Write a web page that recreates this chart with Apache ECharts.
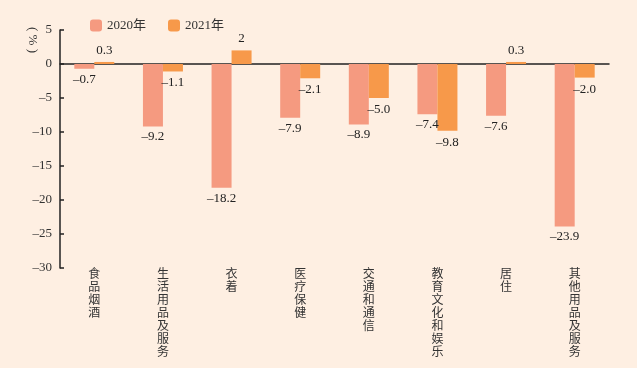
<!DOCTYPE html>
<html><head><meta charset="utf-8">
<script src="https://cdn.jsdelivr.net/npm/echarts@6/dist/echarts.min.js"></script>
<style>html,body{margin:0;padding:0;background:#feefe2;}#c{width:637px;height:368px;}</style>
</head><body><div id="c"></div>
<script>
const categories = ['食品烟酒','生活用品及服务','衣着','医疗保健','交通和通信','教育文化和娱乐','居住','其他用品及服务'];
const values2020 = [-0.7, -9.2, -18.2, -7.9, -8.9, -7.4, -7.6, -23.9];
const values2021 = [0.3, -1.1, 2, -2.1, -5.0, -9.8, 0.3, -2.0];
const labels2020 = ['-0.7','-9.2','-18.2','-7.9','-8.9','-7.4','-7.6','-23.9'];
const labels2021 = ['0.3','-1.1','2','-2.1','-5.0','-9.8','0.3','-2.0'];
const yTicks = [5, 0, -5, -10, -15, -20, -25, -30];

const serif = '"Liberation Serif","Noto Sans CJK SC",serif';
const minus = s => String(s).replace('-', '\u2013');

function mk(vals, labs) {
  return vals.map((v, i) => ({
    value: v,
    label: { position: v < 0 ? 'bottom' : 'top', formatter: minus(labs[i]) }
  }));
}

const chart = echarts.init(document.getElementById('c'));
chart.setOption({
  backgroundColor: '#feefe2',
  textStyle: { fontFamily: serif },
  animation: false,
  legend: {
    top: 14, left: 85, itemWidth: 12, itemHeight: 12, itemGap: 22, itemStyle: { borderWidth: 0 },
    textStyle: { fontFamily: serif, fontSize: 13, color: '#333' },
    data: ['2020年', '2021年']
  },
  graphic: [{
    type: 'text', x: 32, y: 40, rotation: -Math.PI / 2,
    style: { text: '( % )', font: '13px ' + serif, fill: '#333', align: 'center', verticalAlign: 'middle' }
  }],
  grid: { left: 60, right: 28, top: 30, bottom: 100 },
  xAxis: [{
    type: 'category', data: categories,
    axisLine: { onZero: true, lineStyle: { color: '#222', width: 1.5 } },
    axisTick: { inside: true, length: 4, lineStyle: { color: '#222', width: 1.5 } },
    axisLabel: { show: false }
  }, {
    type: 'category', data: categories, position: 'bottom',
    axisLine: { show: false }, axisTick: { show: false },
    axisLabel: {
      margin: 0, color: '#333', fontSize: 12, lineHeight: 13, verticalAlign: 'top',
      formatter: s => s.split('').join('\n')
    }
  }],
  yAxis: {
    type: 'value', min: -30, max: 5, interval: 5,
    axisLine: { show: true, lineStyle: { color: '#222', width: 1.5 } },
    axisTick: { show: true, inside: true, length: 4, lineStyle: { color: '#222', width: 1.5 } },
    splitLine: { show: false },
    axisLabel: { color: '#333', fontSize: 13, margin: 8, formatter: v => minus(v) }
  },
  series: [{
    name: '2020年', type: 'bar', barWidth: 20, barGap: '0%',
    itemStyle: { color: '#f59a80' },
    label: { show: true, fontFamily: serif, fontSize: 13, color: '#222', distance: 4 },
    data: mk(values2020, labels2020)
  }, {
    name: '2021年', type: 'bar', barWidth: 20, barGap: '0%',
    itemStyle: { color: '#f7994a' },
    label: { show: true, fontFamily: serif, fontSize: 13, color: '#222', distance: 5 },
    data: mk(values2021, labels2021)
  }]
});
</script></body></html>
